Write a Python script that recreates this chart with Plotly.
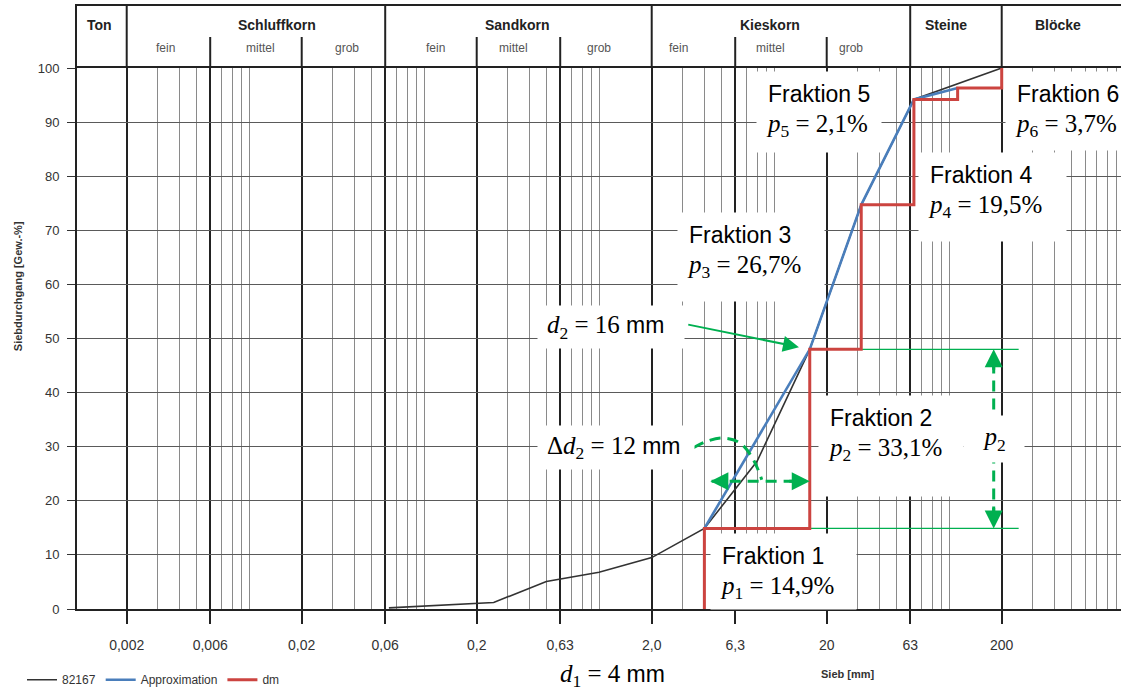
import numpy as np
import plotly.graph_objects as go

# ---------------- data ----------------
sieve_82167_mm = [0.063, 0.25, 0.5, 1.0, 2.0, 4.0, 8.0, 16.0, 31.5, 63.0, 200.0]
passing_82167 = [0.2, 1.2, 5.1, 6.8, 9.5, 14.9, 27.3, 48.0, 74.7, 94.2, 100.0]

fraction_bounds_mm = [4.0, 16.0, 31.5, 63.0, 112.0, 200.0]
fraction_shares = [14.9, 33.1, 26.7, 19.5, 2.1, 3.7]

x_tick_vals = [0.002, 0.006, 0.02, 0.06, 0.2, 0.6, 2.0, 6.0, 20.0, 60.0, 200.0]
x_tick_text = ["0,002", "0,006", "0,02", "0,06", "0,2", "0,63", "2,0", "6,3", "20", "63", "200"]
y_tick_vals = [0, 10, 20, 30, 40, 50, 60, 70, 80, 90, 100]

group_bounds_mm = [0.002, 0.06, 2.0, 60.0, 200.0]
sub_bounds_mm = [0.006, 0.02, 0.2, 0.6, 6.0, 20.0]
group_names = ["Ton", "Schluffkorn", "Sandkorn", "Kieskorn", "Steine", "Blöcke"]
group_label_mm = [0.0014, 0.0145, 0.34, 9.5, 96.0, 420.0]
sub_names = ["fein", "mittel", "grob"] * 3
sub_label_mm = [0.00335, 0.0116, 0.0364, 0.116, 0.326, 1.0, 2.83, 9.6, 27.7]

# label boxes: top-left corner (mm, %) and size (px)
frak_box_mm = [4.31, 17.8, 2.79, 66.5, 7.9, 209.0]
frak_box_pct = [14.1, 39.6, 73.4, 84.5, 99.4, 99.4]
frak_box_w = [145, 144, 146, 147, 124, 125]
frak_box_h = [75, 100, 88, 88, 80, 78]

delta_y_pct = 23.6          # height of the Δd2 arrow
p2_arrow_mm = 180.0         # position of the p2 arrow
green_line_end_mm = 250.0
arc_mm = [3.46, 4.13, 5.13, 6.39, 7.62, 8.51]
arc_pct = [29.8, 31.0, 31.6, 30.7, 27.6, 23.9]

# ---------------- styling ----------------
SANS = "Liberation Sans"
SERIF = "Liberation Serif"
GREEN = "#00B050"
BLUE = "#4A7EBB"
RED = "#CC4440"
DARK = "#333333"

cum = np.round(np.cumsum(fraction_shares), 1)
b = fraction_bounds_mm
d1, d2 = b[0], b[1]

L, R, T, B = 77, 0, 6, 81
W, H = 1121, 690
plot_h = H - T - B
plot_w = W - L - R
main_top_frac = (609.3 - 68.3) / plot_h
xr = [-2.983, -2.983 + plot_w / 175.0]

minor_vals = []
for k in range(-3, 3):
    for n in range(1, 10):
        v = round(n * 10.0 ** k, 6)
        if v > 0.002 and v < 1000 and all(abs(v - t) > 1e-9 for t in x_tick_vals):
            minor_vals.append(v)

fig = go.Figure()

# thin green reference lines
for lvl in (cum[0], cum[1]):
    fig.add_trace(go.Scatter(x=[d2, green_line_end_mm], y=[lvl, lvl], mode="lines",
                             line=dict(color=GREEN, width=1.3), showlegend=False, hoverinfo="skip"))

# measured curve
fig.add_trace(go.Scatter(x=sieve_82167_mm, y=passing_82167, mode="lines", name="82167",
                         line=dict(color=DARK, width=1.6)))
# approximation
fig.add_trace(go.Scatter(x=b[:5], y=list(cum[:5]), mode="lines", name="Approximation",
                         line=dict(color=BLUE, width=2.6)))
# dm step line
fig.add_trace(go.Scatter(x=b + [b[-1]], y=[0] + list(cum), mode="lines", name="dm",
                         line=dict(color=RED, width=3, shape="vh")))

# dashed Δd2 arrow shaft
fig.add_trace(go.Scatter(x=[d1 * 1.1, d2 * 0.95], y=[delta_y_pct, delta_y_pct], mode="lines",
                         line=dict(color=GREEN, width=3, dash="11px,7px"), showlegend=False, hoverinfo="skip"))
# dashed arc
fig.add_trace(go.Scatter(x=arc_mm, y=arc_pct, mode="lines",
                         line=dict(color=GREEN, width=3, dash="11px,7px", shape="spline"),
                         showlegend=False, hoverinfo="skip"))
# dashed p2 arrow shaft
fig.add_trace(go.Scatter(x=[p2_arrow_mm, p2_arrow_mm], y=[cum[0] + 2, cum[1] - 2], mode="lines",
                         line=dict(color=GREEN, width=3, dash="11px,7px"), showlegend=False, hoverinfo="skip"))

# header lines
hx, hy = [], []
for v in group_bounds_mm:
    hx += [v, v, None]; hy += [0, 1, None]
for v in sub_bounds_mm:
    hx += [v, v, None]; hy += [0, 0.5, None]
fig.add_trace(go.Scatter(x=hx, y=hy, xaxis="x2", yaxis="y2", mode="lines",
                         line=dict(color="#222222", width=2), showlegend=False, hoverinfo="skip"))

ann = []
lg = np.log10


def pstr(v):
    return f"{v:.1f}".replace(".", ",")


# fraction labels
for i in range(6):
    txt = (f"Fraktion {i+1}<br><span style='font-family:{SERIF};font-size:25px'>"
           f"<i>p</i><sub>{i+1}</sub> = {pstr(fraction_shares[i])}%</span>")
    pad = 9
    ann.append(dict(x=lg(frak_box_mm[i]), y=frak_box_pct[i], xref="x", yref="y",
                    xanchor="left", yanchor="top", text=txt, showarrow=False,
                    align="left", valign="top", bgcolor="white", borderpad=pad,
                    width=frak_box_w[i] - 2 * pad, height=frak_box_h[i] - 2 * pad,
                    font=dict(family=SANS, size=23, color="black")))

# d2 label + arrow
ann.append(dict(x=lg(0.442), y=56.2, xref="x", yref="y", xanchor="left", yanchor="top",
                text=f"<i>d</i><sub>2</sub> = 16 <span style='font-family:{SANS};font-size:23px'>mm</span>",
                showarrow=False, align="left", valign="middle", bgcolor="white", borderpad=9,
                width=146 - 18, height=42 - 18, font=dict(family=SERIF, size=25, color="black")))
ann.append(dict(x=lg(d2), y=cum[1], xref="x", yref="y", text="", showarrow=True,
                ax=-123, ay=-25, arrowhead=2, arrowsize=1.6, arrowwidth=2, arrowcolor=GREEN, standoff=11))

# Δd2 label
ann.append(dict(x=lg(0.442), y=34.1, xref="x", yref="y", xanchor="left", yanchor="top",
                text=f"Δ<i>d</i><sub>2</sub> = 12 <span style='font-family:{SANS};font-size:23px'>mm</span>",
                showarrow=False, align="left", valign="middle", bgcolor="white", borderpad=9,
                width=156 - 18, height=43 - 18, font=dict(family=SERIF, size=25, color="black")))
# Δd2 arrow heads
ann.append(dict(x=lg(d1), y=delta_y_pct, xref="x", yref="y", text="", showarrow=True,
                ax=22, ay=0, arrowhead=2, arrowsize=1.2, arrowwidth=3, arrowcolor=GREEN, standoff=6))
ann.append(dict(x=lg(d2), y=delta_y_pct, xref="x", yref="y", text="", showarrow=True,
                ax=-22, ay=0, arrowhead=2, arrowsize=1.2, arrowwidth=3, arrowcolor=GREEN, standoff=0))
# p2 arrow heads
ann.append(dict(x=lg(p2_arrow_mm), y=cum[1], xref="x", yref="y", text="", showarrow=True,
                ax=0, ay=22, arrowhead=2, arrowsize=1.2, arrowwidth=3, arrowcolor=GREEN, standoff=0))
ann.append(dict(x=lg(p2_arrow_mm), y=cum[0], xref="x", yref="y", text="", showarrow=True,
                ax=0, ay=-22, arrowhead=2, arrowsize=1.2, arrowwidth=3, arrowcolor=GREEN, standoff=0))
# p2 label
ann.append(dict(x=lg(p2_arrow_mm), y=31.4, xref="x", yref="y", text="<i>p</i><sub>2</sub>",
                showarrow=False, bgcolor="white", borderpad=10, width=40, height=26,
                font=dict(family=SERIF, size=25, color="black")))

# d1 label below axis
ann.append(dict(x=(612 - L) / plot_w, y=(609.3 - 676) / plot_h, xref="paper", yref="paper",
                xanchor="center", yanchor="middle",
                text=f"<i>d</i><sub>1</sub> = 4 <span style='font-family:{SANS};font-size:23px'>mm</span>",
                showarrow=False, font=dict(family=SERIF, size=25, color="black")))
# Sieb [mm]
ann.append(dict(x=(848 - L) / plot_w, y=(609.3 - 674) / plot_h, xref="paper", yref="paper",
                xanchor="center", yanchor="middle",
                text="<b>Sieb [mm]</b>", showarrow=False,
                font=dict(family=SANS, size=11, color=DARK)))
# y title
ann.append(dict(x=(17.5 - L) / plot_w, y=(609.3 - 287) / plot_h, xref="paper", yref="paper",
                xanchor="center", yanchor="middle",
                text="<b>Siebdurchgang [Gew.-%]</b>", showarrow=False, textangle=-90,
                font=dict(family=SANS, size=11, color=DARK)))

# header texts
for name, pos in zip(group_names, group_label_mm):
    ann.append(dict(x=lg(pos), y=0.69, xref="x2", yref="y2", text=f"<b>{name}</b>",
                    showarrow=False, font=dict(family=SANS, size=14, color="#222")))
for name, pos in zip(sub_names, sub_label_mm):
    ann.append(dict(x=lg(pos), y=0.32, xref="x2", yref="y2", text=name,
                    showarrow=False, font=dict(family=SANS, size=12, color="#555")))

fig.update_layout(
    width=W, height=H, autosize=False,
    margin=dict(l=L, r=R, t=T, b=B, autoexpand=False),
    paper_bgcolor="white", plot_bgcolor="white",
    annotations=ann,
    showlegend=True,
    legend=dict(orientation="h", x=(22 - L) / plot_w, xanchor="left", y=(609.3 - 680) / plot_h,
                yanchor="middle",
                font=dict(family=SANS, size=12, color=DARK), bgcolor="rgba(0,0,0,0)",
                itemwidth=30, traceorder="normal"),
    xaxis=dict(type="log", range=xr, domain=[0, 1], anchor="y",
               tickmode="array", tickvals=x_tick_vals, ticktext=x_tick_text,
               ticks="outside", ticklen=13, tickwidth=2, tickcolor="#222",
               tickfont=dict(family=SANS, size=14, color=DARK), ticklabelstandoff=9,
               showgrid=True, gridcolor="#222", gridwidth=2,
               minor=dict(tickmode="array", tickvals=minor_vals, showgrid=True,
                          gridcolor="#8a8a8a", gridwidth=1, ticks=""),
               showline=True, mirror=True, linecolor="#222", linewidth=2, zeroline=False),
    yaxis=dict(range=[0, 100], domain=[0, main_top_frac], anchor="x",
               tickmode="array", tickvals=y_tick_vals,
               ticks="outside", ticklen=8, tickwidth=1, tickcolor="#333",
               tickfont=dict(family=SANS, size=13, color=DARK), ticklabelstandoff=5,
               showgrid=True, gridcolor="#5a5a5a", gridwidth=1,
               showline=True, linecolor="#222", linewidth=2, zeroline=False),
    xaxis2=dict(type="log", range=xr, matches="x", anchor="y2", side="top",
                showgrid=False, showticklabels=False, ticks="", showline=True,
                linecolor="#222", linewidth=2, zeroline=False),
    yaxis2=dict(range=[0, 1], domain=[main_top_frac, 1], anchor="x2",
                showgrid=False, showticklabels=False, ticks="", showline=True,
                linecolor="#222", linewidth=2, zeroline=False),
)

fig.write_html("out.html", config={"displayModeBar": False},
               post_script="document.body.style.margin='0px';")
